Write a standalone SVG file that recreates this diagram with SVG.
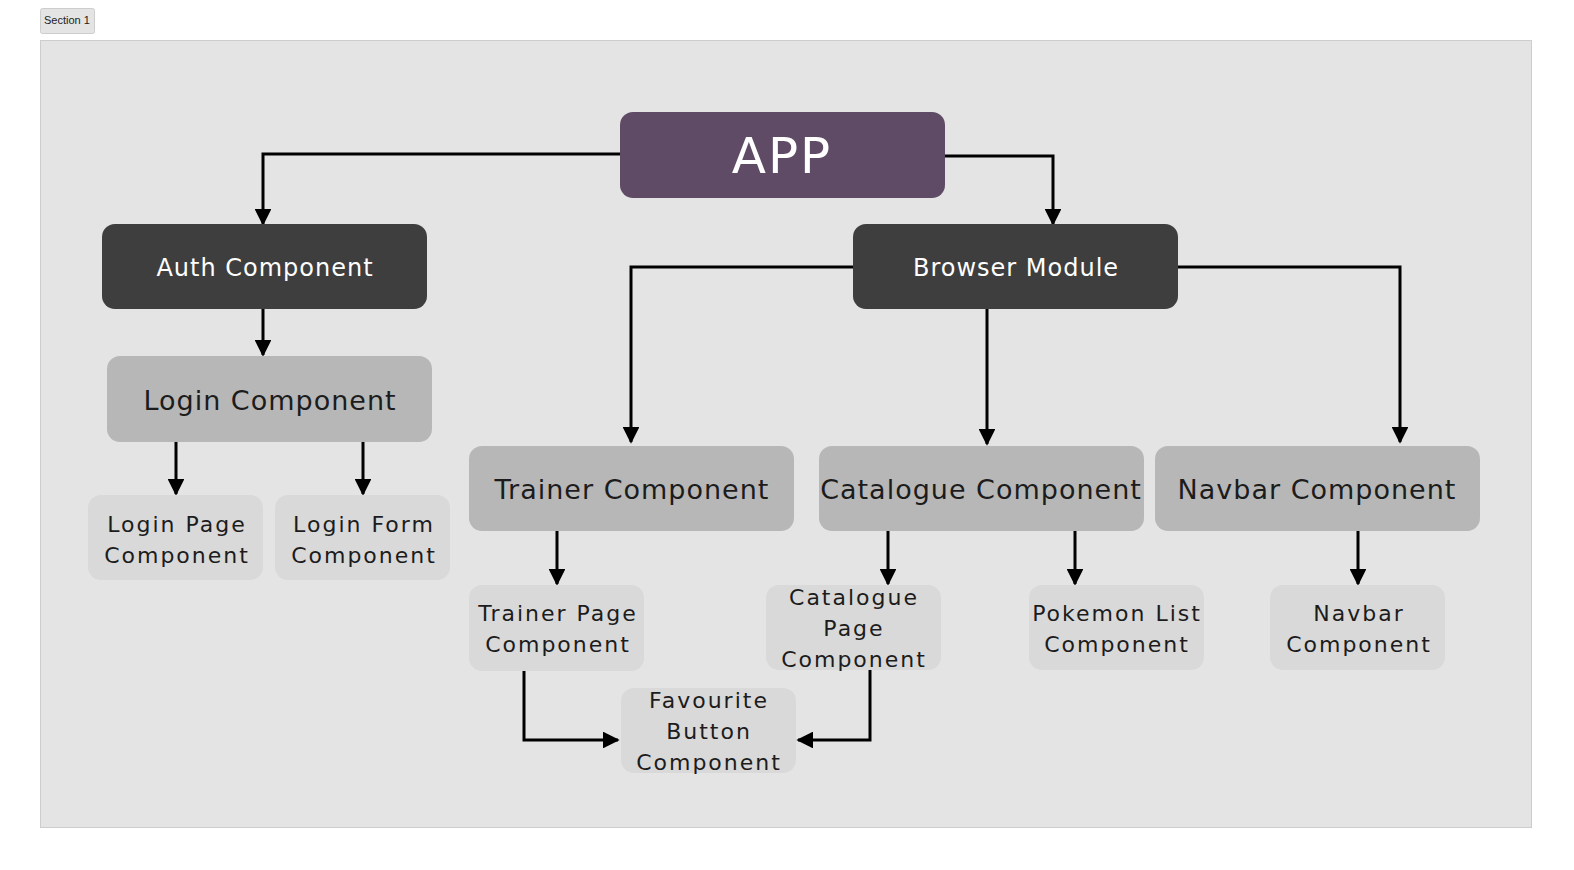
<svg xmlns="http://www.w3.org/2000/svg" width="1574" height="870" viewBox="0 0 1574 870">
<style>
.sec{fill:#e4e4e4;stroke:#cdcdcd;stroke-width:1}
.lbl{font-family:"Liberation Sans",Arial,sans-serif;font-size:11px;fill:#222}
.n{stroke:none}
.app{fill:#5f4b65}
.dark{fill:#3e3e3e}
.mid{fill:#b7b7b7}
.light{fill:#d9d9d9}
text.t{font-family:"DejaVu Sans","Noto Sans",sans-serif;text-anchor:middle}
.w{fill:#ffffff}
.k{fill:#1c1c1c}
.big{font-size:27px;letter-spacing:1px}
.med{font-size:24px;letter-spacing:1px}
.sm{font-size:22px;letter-spacing:2px}
.c{fill:none;stroke:#000;stroke-width:3;marker-end:url(#ah)}
</style>
<defs>
<marker id="ah" viewBox="0 0 10 10" refX="9" refY="5" markerWidth="5.6" markerHeight="5.6" orient="auto" markerUnits="strokeWidth">
<path d="M0,0 L10,5 L0,10 z" fill="#000"/>
</marker>
</defs>
<rect x="0" y="0" width="1574" height="870" fill="#ffffff"/>
<g id="section">
<rect class="sec" x="40.5" y="8.5" width="54" height="25" rx="2"/>
<text class="lbl" x="44" y="24">Section 1</text>
<rect class="sec" x="40.5" y="40.5" width="1491" height="787"/>
</g>
<g id="connectors">
<path class="c" d="M620,154 H263 V224"/>
<path class="c" d="M945,156 H1053 V224"/>
<path class="c" d="M263,309 V355"/>
<path class="c" d="M853,267 H631 V442"/>
<path class="c" d="M987,309 V444"/>
<path class="c" d="M1178,267 H1400 V442"/>
<path class="c" d="M176,442 V494"/>
<path class="c" d="M363,442 V494"/>
<path class="c" d="M557,531 V584"/>
<path class="c" d="M888,531 V584"/>
<path class="c" d="M1075,531 V584"/>
<path class="c" d="M1358,531 V584"/>
<path class="c" d="M524,671 V740 H618"/>
<path class="c" d="M870,670 V740 H798"/>
</g>
<g id="app">
<rect class="n app" x="620" y="112" width="325" height="86" rx="13"/>
<text class="t w" x="782" y="173" style="font-size:50px;letter-spacing:2px">APP</text>
</g>
<g id="auth">
<rect class="n dark" x="102" y="224" width="325" height="85" rx="13"/>
<text class="t w med" x="265" y="276">Auth Component</text>
</g>
<g id="browser">
<rect class="n dark" x="853" y="224" width="325" height="85" rx="13"/>
<text class="t w med" x="1016" y="276">Browser Module</text>
</g>
<g id="login">
<rect class="n mid" x="107" y="356" width="325" height="86" rx="13"/>
<text class="t k big" x="270" y="410">Login Component</text>
</g>
<g id="trainer">
<rect class="n mid" x="469" y="446" width="325" height="85" rx="13"/>
<text class="t k big" x="632" y="499">Trainer Component</text>
</g>
<g id="catalogue">
<rect class="n mid" x="819" y="446" width="325" height="85" rx="13"/>
<text class="t k big" x="981" y="499">Catalogue Component</text>
</g>
<g id="navbar">
<rect class="n mid" x="1155" y="446" width="325" height="85" rx="13"/>
<text class="t k big" x="1317" y="499">Navbar Component</text>
</g>
<g id="loginpage">
<rect class="n light" x="88" y="495" width="175" height="85" rx="13"/>
<text class="t k sm" x="177" y="532">Login Page</text>
<text class="t k sm" x="177" y="563">Component</text>
</g>
<g id="loginform">
<rect class="n light" x="275" y="495" width="175" height="85" rx="13"/>
<text class="t k sm" x="364" y="532">Login Form</text>
<text class="t k sm" x="364" y="563">Component</text>
</g>
<g id="trainerpage">
<rect class="n light" x="469" y="585" width="175" height="86" rx="13"/>
<text class="t k sm" x="558" y="621">Trainer Page</text>
<text class="t k sm" x="558" y="652">Component</text>
</g>
<g id="cataloguepage">
<rect class="n light" x="766" y="585" width="175" height="85" rx="13"/>
<text class="t k sm" x="854" y="605">Catalogue</text>
<text class="t k sm" x="854" y="636">Page</text>
<text class="t k sm" x="854" y="667">Component</text>
</g>
<g id="pokemonlist">
<rect class="n light" x="1029" y="585" width="175" height="85" rx="13"/>
<text class="t k sm" x="1117" y="621">Pokemon List</text>
<text class="t k sm" x="1117" y="652">Component</text>
</g>
<g id="navbarcomp">
<rect class="n light" x="1270" y="585" width="175" height="85" rx="13"/>
<text class="t k sm" x="1359" y="621">Navbar</text>
<text class="t k sm" x="1359" y="652">Component</text>
</g>
<g id="favourite">
<rect class="n light" x="621" y="688" width="175" height="85" rx="13"/>
<text class="t k sm" x="709" y="708">Favourite</text>
<text class="t k sm" x="709" y="739">Button</text>
<text class="t k sm" x="709" y="770">Component</text>
</g>
</svg>
